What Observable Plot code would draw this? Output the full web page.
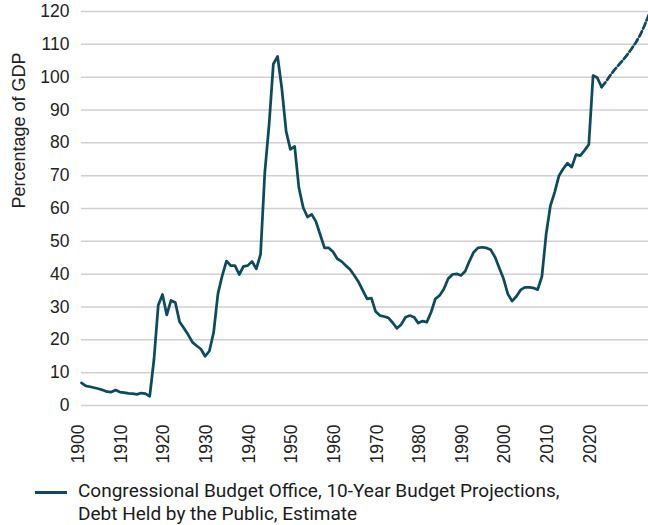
<!DOCTYPE html>
<html><head><meta charset="utf-8">
<script src="https://cdn.jsdelivr.net/npm/d3@7"></script>
<script src="https://cdn.jsdelivr.net/npm/@observablehq/plot@0.6"></script>
<style>
body{margin:0;background:#fff;}
#legend{position:relative;height:45px;font-family:Roboto,"Liberation Sans",sans-serif;font-size:19px;line-height:23px;color:#1a1a1a;}
#legend .sw{position:absolute;left:35px;top:12px;width:32px;height:3px;background:#0c4b5f;}
#legend .tx{position:absolute;left:78px;top:0;white-space:nowrap;}
</style></head><body>
<div id="chart"></div>
<div id="legend"><div class="sw"></div><div class="tx" id="legtext"></div></div>
<script>
const years = [1900,1901,1902,1903,1904,1905,1906,1907,1908,1909,1910,1911,1912,1913,1914,1915,1916,1917,1918,1919,
1920,1921,1922,1923,1924,1925,1926,1927,1928,1929,1930,1931,1932,1933,1934,1935,1936,1937,1938,1939,
1940,1941,1942,1943,1944,1945,1946,1947,1948,1949,1950,1951,1952,1953,1954,1955,1956,1957,1958,1959,
1960,1961,1962,1963,1964,1965,1966,1967,1968,1969,1970,1971,1972,1973,1974,1975,1976,1977,1978,1979,
1980,1981,1982,1983,1984,1985,1986,1987,1988,1989,1990,1991,1992,1993,1994,1995,1996,1997,1998,1999,
2000,2001,2002,2003,2004,2005,2006,2007,2008,2009,2010,2011,2012,2013,2014,2015,2016,2017,2018,2019,
2020,2021,2022];
const debt = [6.9,6.0,5.7,5.4,5.1,4.7,4.2,4.1,4.7,4.1,3.9,3.7,3.6,3.4,3.8,3.6,2.8,14.0,30.5,33.8,
27.6,32.0,31.4,25.5,23.6,21.6,19.3,18.2,17.2,15.0,16.6,22.3,34.0,39.5,44.0,42.6,42.6,39.9,42.4,42.6,
43.9,41.6,46.0,71.0,85.5,104.0,106.3,96.4,83.5,78.0,78.9,66.3,60.3,57.4,58.2,56.0,52.0,48.0,48.0,46.8,
44.7,43.9,42.6,41.4,39.6,37.6,35.0,32.5,32.7,28.6,27.4,27.1,26.7,25.2,23.5,24.7,26.9,27.4,26.9,25.1,
25.7,25.4,28.4,32.5,33.5,35.5,38.6,39.9,40.1,39.6,40.9,44.0,46.7,48.0,48.2,48.0,47.4,45.2,41.9,38.6,
34.0,31.8,33.2,35.2,36.0,36.0,35.8,35.3,39.3,52.3,60.9,65.0,70.0,72.1,73.8,72.6,76.4,76.1,77.7,79.5,
100.5,99.8,97.0];
const projYears = [2022,2023,2024,2025,2026,2027,2028,2029,2030,2031,2032,2033];
const projDebt = [97.0,98.6,100.5,102.2,103.7,105.2,106.8,108.6,110.5,112.7,115.5,118.8];
const xTicks = [1900,1910,1920,1930,1940,1950,1960,1970,1980,1990,2000,2010,2020];
const yTicks = [0,10,20,30,40,50,60,70,80,90,100,110,120];
const yTitle = "Percentage of GDP";
const legendLines = ["Congressional Budget Office, 10-Year Budget Projections,", "Debt Held by the Public, Estimate"];

const lineColor = "#0c4b5f";
const actual = years.map((y, i) => ({year: y, value: debt[i]}));
const projected = projYears.map((y, i) => ({year: y, value: projDebt[i]}));

const chart = Plot.plot({
  width: 648,
  height: 479,
  marginTop: 11,
  marginBottom: 74,
  marginLeft: 81,
  marginRight: 0,
  style: {fontFamily: '"Liberation Sans", Arial, sans-serif', fontSize: "17.5px", color: "#222", background: "#fff"},
  x: {domain: [1900, 2033]},
  y: {domain: [0, 120]},
  marks: [
    Plot.gridY(yTicks, {stroke: "#d0d0d0", strokeOpacity: 1, strokeWidth: 1.5}),
    Plot.axisY(yTicks, {tickSize: 0, tickPadding: 12, label: null}),
    Plot.axisX(xTicks, {tickSize: 0, tickPadding: 19, tickRotate: -90, tickFormat: d => String(d), label: null, dx: -3}),
    Plot.text([yTitle], {text: d => d, frameAnchor: "left", rotate: -90, dx: -62, fontSize: 18, fill: "#222"}),
    Plot.line(actual, {x: "year", y: "value", stroke: lineColor, strokeWidth: 2.75, strokeLinejoin: "round"}),
    Plot.line(projected, {x: "year", y: "value", stroke: lineColor, strokeWidth: 2.75, strokeDasharray: "6,3"})
  ]
});
document.getElementById("chart").appendChild(chart);
document.getElementById("legtext").innerHTML = legendLines.join("<br>");
</script>
</body></html>
